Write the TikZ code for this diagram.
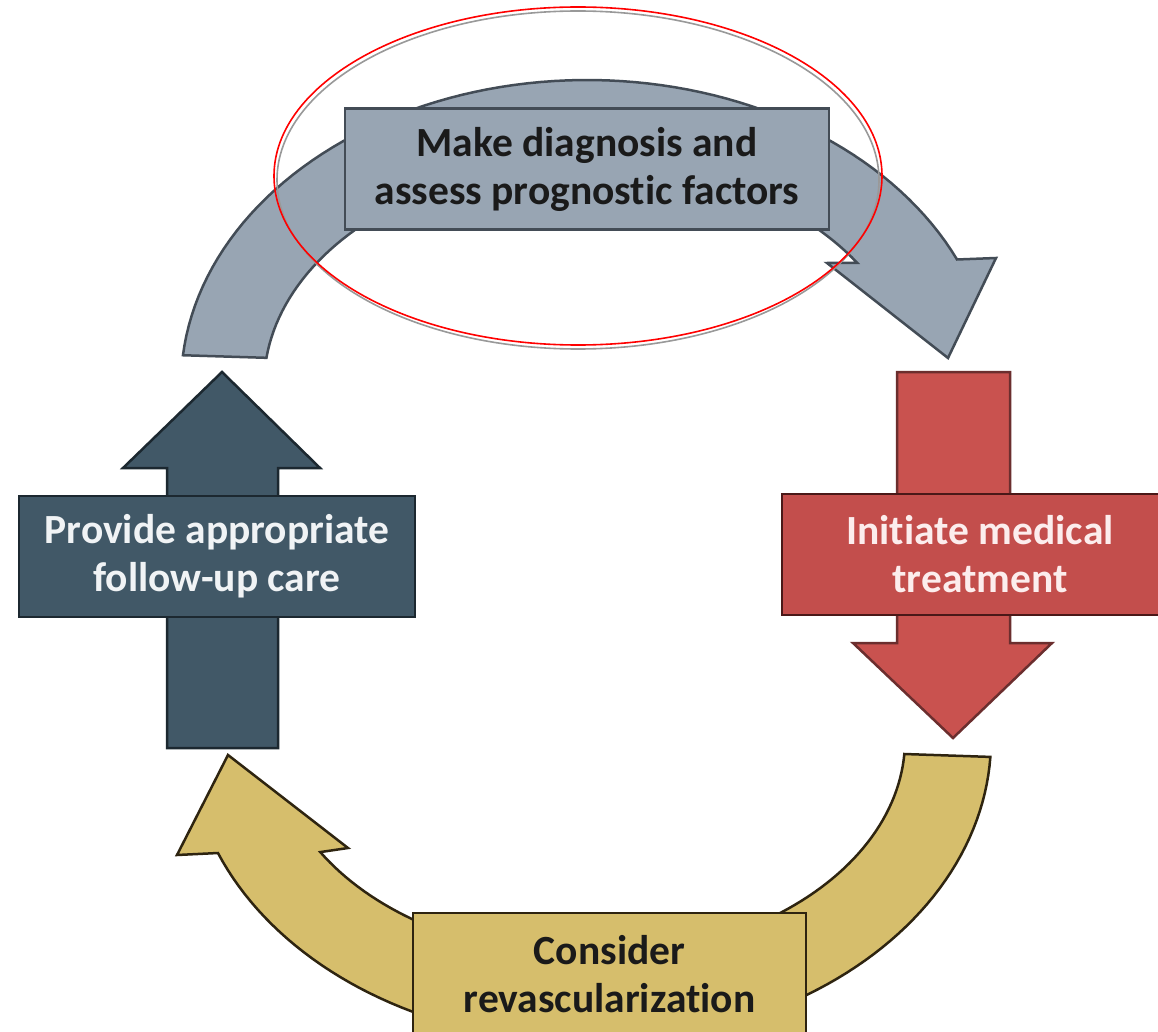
\documentclass[tikz,border=0pt]{standalone}
\usepackage{fontspec}
\setmainfont[Ligatures=NoCommon]{Carlito}
\definecolor{grayfill}{HTML}{98A5B3}
\definecolor{grayline}{HTML}{434C56}
\definecolor{redfill}{HTML}{C9524F}
\definecolor{redline}{HTML}{6B2E2E}
\definecolor{redbox}{HTML}{C34E4C}
\definecolor{redboxline}{HTML}{4A1818}
\definecolor{slatefill}{HTML}{415867}
\definecolor{slateline}{HTML}{1C2830}
\definecolor{yelfill}{HTML}{D6BE6C}
\definecolor{yelline}{HTML}{2E2410}
\definecolor{darktext}{HTML}{1A1A1A}
\definecolor{lighttext}{HTML}{F0F3F5}
\definecolor{pinktext}{HTML}{FCEDED}
\begin{document}
\begin{tikzpicture}[x=1pt,y=-1pt,
  box/.style={draw, line width=2.5pt, minimum height=121pt, inner sep=0pt,
    align=center, font=\fontsize{41.5}{48}\selectfont\bfseries},
  band/.style={line width=2.5pt, line join=miter},
  ring/.style={line width=1.6pt}]
\useasboundingbox (0,0) rectangle (1158,1032);
\clip (0,0) rectangle (1158,1032);
\fill[white] (0,0) rectangle (1158,1032);

% ---- top gray curved arrow (outer/inner elliptic edges)
\filldraw[band, fill=grayfill, draw=grayline]
  plot[domain=174.4:24.3, samples=80] ({587+406*cos(\x)},{385-305*sin(\x)})
  -- (996,258) -- (948,358) -- (827,263)
  -- plot[domain=33.2:173, samples=80] ({587+323*cos(\x)},{385-223*sin(\x)})
  -- cycle;
\node[box, fill=grayfill, draw=grayline, minimum width=484pt, text=darktext]
  (diag) at (587,169) {Make diagnosis and\\assess prognostic factors};

% ---- right red arrow
\filldraw[band, fill=redfill, draw=redline]
  (897,372) -- (1010,372) -- (1010,643) -- (1052,643) -- (953,738)
  -- (853,643) -- (897,643) -- cycle;
\node[box, fill=redbox, draw=redboxline, minimum width=396pt, text=pinktext]
  (treat) at (980,554.5) {Initiate medical\\treatment};

% ---- bottom yellow curved arrow
\filldraw[band, fill=yelfill, draw=yelline]
  plot[domain=-3.2:-158.1, samples=90] ({590+401*cos(\x)},{740-303*sin(\x)})
  -- (177,855) -- (228,755) -- (348,848)
  -- plot[domain=-148.9:-3.7, samples=90] ({590+315*cos(\x)},{740-217*sin(\x)})
  -- cycle;
\node[box, fill=yelfill, draw=yelline, minimum width=393pt, minimum height=122pt,
  text=darktext] (revasc) at (609.5,974) {Consider\\revascularization};

% ---- left dark arrow
\filldraw[band, fill=slatefill, draw=slateline]
  (167,748) -- (278,748) -- (278,468) -- (320,468) -- (222,372)
  -- (123,468) -- (167,468) -- cycle;
\node[box, fill=slatefill, draw=slateline, minimum width=396pt, text=lighttext]
  (follow) at (217,556.5) {Provide appropriate\\follow-up care};

% ---- highlight ellipse
\draw[ring, draw=black!40] (578,180) ellipse [x radius=301, y radius=169];
\draw[ring, draw=red] (578,176) ellipse [x radius=304, y radius=169];
\end{tikzpicture}
\end{document}
